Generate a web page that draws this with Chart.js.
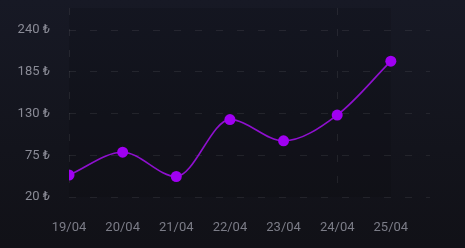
<!DOCTYPE html>
<html>
<head>
<meta charset="utf-8">
<script src="https://cdn.jsdelivr.net/npm/chart.js@4/dist/chart.umd.min.js"></script>
<style>
  html, body { margin: 0; padding: 0; }
  body { width: 465px; height: 248px; background: linear-gradient(180deg, #171925 0%, #13141c 60%, #111117 100%); overflow: hidden; }
  #wrap { position: relative; width: 465px; height: 248px; }
</style>
</head>
<body>
<div id="wrap"><canvas id="c" width="465" height="248"></canvas></div>
<script>
const categories = ["19/04", "20/04", "21/04", "22/04", "23/04", "24/04", "25/04"];
const prices = [49, 79, 47, 122, 94, 128, 199];
const yTickValues = [20, 75, 130, 185, 240];
const currency = "₺";

const gridColor = "rgba(255,255,255,0.075)";

const shadePlugin = {
  id: "shade",
  beforeDraw(chart) {
    const { ctx, chartArea, scales } = chart;
    const x0 = scales.x.getPixelForValue(0);
    const x1 = scales.x.getPixelForValue(categories.length - 1);
    ctx.save();
    ctx.fillStyle = "rgba(0,0,0,0.10)";
    ctx.fillRect(x0, chartArea.top, x1 - x0, chartArea.bottom - chartArea.top);
    ctx.restore();
  }
};

function zeroPad(scale) {
  scale.paddingTop = 0; scale.paddingBottom = 0;
  scale.paddingLeft = 0; scale.paddingRight = 0;
}

new Chart(document.getElementById("c"), {
  type: "line",
  data: {
    datasets: [{
      data: prices.map((v, i) => ({ x: i, y: v })),
      borderColor: "#8f10cf",
      borderWidth: 1.6,
      backgroundColor: "#a000f2",
      pointBackgroundColor: "#a000f2",
      pointBorderWidth: 0,
      pointRadius: 5.5,
      cubicInterpolationMode: "monotone",
      fill: false
    }]
  },
  options: {
    responsive: false,
    animation: false,
    devicePixelRatio: 1,
    layout: { padding: { top: 8, right: 35, left: 0, bottom: 0 } },
    plugins: { legend: { display: false }, tooltip: { enabled: false } },
    scales: {
      x: {
        type: "linear",
        min: 0,
        max: 6.73,
        afterBuildTicks(scale) { scale.ticks = categories.map((_, i) => ({ value: i })); },
        afterFit(scale) { scale.height = 51; zeroPad(scale); },
        grid: {
          drawTicks: false,
          color: (c) => (c.tick && (c.tick.value === 0 || c.tick.value === 5)) ? gridColor : "transparent",
          lineWidth: 1
        },
        border: { display: false, dash: [7, 14] },
        ticks: {
          padding: 23,
          color: "#7b7c87",
          font: { family: "Roboto", size: 13 },
          maxRotation: 0,
          autoSkip: false,
          callback: (v) => categories[v]
        }
      },
      y: {
        min: 20,
        max: 269,
        afterBuildTicks(scale) { scale.ticks = yTickValues.map(v => ({ value: v })); },
        afterFit(scale) { scale.width = 69; zeroPad(scale); },
        border: { display: false, dash: [7, 14] },
        grid: { drawTicks: false, color: gridColor, lineWidth: 1 },
        ticks: {
          padding: 19,
          color: "#8a8b96",
          font: { family: "Roboto", size: 13 },
          callback: (v) => v + " " + currency
        }
      }
    }
  },
  plugins: [shadePlugin]
});
</script>
</body>
</html>
